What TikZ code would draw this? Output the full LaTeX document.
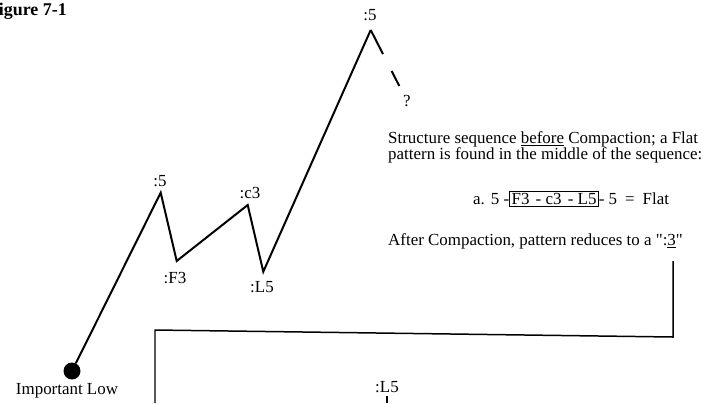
\documentclass[tikz,border=0pt]{standalone}
\usepackage{fontspec}
\setmainfont{Liberation Serif}
\usepackage{xcolor}
\usetikzlibrary{positioning}

\tikzset{
	onda/.style={line width=2pt, line join=miter},
	enlace/.style={line width=1.5pt},
	etq/.style={inner sep=0pt, font=\fontsize{17}{16}\selectfont},
	nota/.style={inner sep=0pt, anchor=west, align=left, font=\fontsize{17}{16}\selectfont},
}

\begin{document}
\begin{tikzpicture}[x=1bp,y=-1bp]
	
	% Ventana
	\useasboundingbox (0,0) rectangle (704,403);
	
	% Titulo
	\node[anchor=east, inner sep=0pt, font=\bfseries\fontsize{18}{18}\selectfont] (titulo) at (67,11) {Figure 7-1};
	
	% Puntos de la estructura
	\node[circle, fill, inner sep=0pt, minimum size=17bp] (bajo) at (72,371) {};
	\coordinate (p5) at (160.7,192.7);
	\coordinate (f3) at (176.7,261);
	\coordinate (c3) at (247.7,205);
	\coordinate (l5) at (263.3,271.7);
	\coordinate (cima) at (370.7,30);
	\coordinate (duda) at (399.3,86);
	
	% Onda
	\draw[onda] (bajo) -- (p5) -- (f3) -- (c3) -- (l5) -- (cima);
	\draw[onda, dash pattern=on 27bp off 19bp on 17bp] (cima) -- (duda);
	
	% Etiquetas
	\node[etq] (e5a) at (160,181) {:5};
	\node[etq] (ef3) at (175,278) {:F3};
	\node[etq] (ec3) at (250,193) {:c3};
	\node[etq] (el5) at (262,287) {:L5};
	\node[etq] (e5b) at (370,15) {:5};
	\node[etq] (epr) at (407,101) {?};
	\node[etq] (ebajo) at (67,391) {Important Low};
	
	% Texto de la derecha
	\node[nota] (antes) at (388,147) {Structure sequence \underline{before} Compaction; a Flat\\pattern is found in the middle of the sequence:};
	\setlength{\fboxsep}{1.5pt}\setlength{\fboxrule}{0.8pt}
	\node[etq, anchor=west] (seqa) at (473,199) {a.\hspace{6bp}5 -\fbox{F3\hspace{2bp} - c3\hspace{2bp} - L5}- 5\hspace{8bp}=\hspace{8bp}Flat};
	\node[nota] (despues) at (388,241) {After Compaction, pattern reduces to a \textquotedbl:\underline{3}\textquotedbl};
	
	% Enlace a la parte compactada
	\coordinate (k1) at (673,261);
	\coordinate (k2) at (673,337);
	\coordinate (k3) at (155,330);
	\coordinate (k4) at (155,403);
	\draw[enlace] (k1) -- (k2) -- (k3) -- (k4);
	
	% Parte compactada
	\node[etq] (cl5) at (387,387) {:L5};
	\coordinate (cpie) at (387,403);
	\draw[line width=1.2pt] (cl5.south) ++(0,3) -- (cpie);
	
\end{tikzpicture}
\end{document}
